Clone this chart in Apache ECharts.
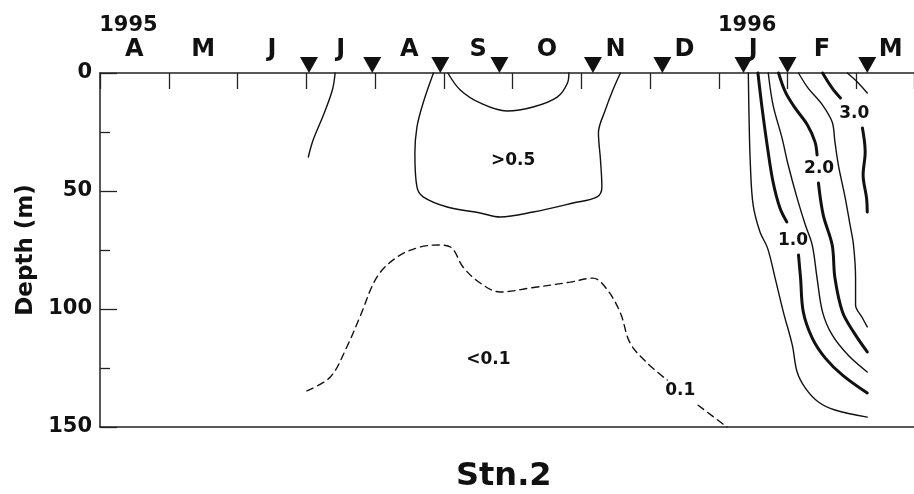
<!DOCTYPE html>
<html>
<head>
<meta charset="utf-8">
<script src="https://cdn.jsdelivr.net/npm/echarts@6.0.0/dist/echarts.min.js"></script>
<style>
  html, body { margin: 0; padding: 0; background: #fff; }
  #chart { width: 914px; height: 494px; }
</style>
</head>
<body>
<div id="chart"></div>
<script>
// Time runs in months since 1 April 1995; depth in metres (0 at the surface).
const months = ['A', 'M', 'J', 'J', 'A', 'S', 'O', 'N', 'D', 'J', 'F', 'M'];
const yearMarks = { 0: '1995', 9: '1996' };
const timeMax = 11.84;

// Sampling dates (triangles along the top)
const sampleDates = [3.04, 3.96, 4.95, 5.81, 7.17, 8.18, 9.36, 10.0, 11.16];

// Solid contour in early July
const julyLine = [[3.42, 0], [3.38, 7.2], [3.25, 17.8], [3.10, 28.4], [3.03, 35.6]];

// 0.5 contour enclosing the late-summer maximum
const outerHalf = [
  [4.85, 0], [4.70, 12.7], [4.61, 22.9], [4.58, 33.9], [4.61, 48.3], [4.70, 52.5],
  [5.05, 56.8], [5.53, 59.3], [5.82, 61.0], [6.30, 58.9], [6.88, 55.1], [7.23, 52.5],
  [7.30, 48.3], [7.28, 36.9], [7.25, 25.4], [7.35, 15.7], [7.46, 7.2], [7.57, 0]
];
// Near-surface bowl inside it
const innerBowl = [
  [5.06, 0], [5.24, 7.2], [5.53, 12.7], [5.92, 16.1], [6.30, 14.4], [6.65, 10.2], [6.80, 4.2], [6.82, 0]
];

// Dashed 0.1 contour (broken where it is labelled)
const tenthA = [
  [3.01, 134.7], [3.35, 128.8], [3.59, 116.1], [3.78, 103.4], [4.03, 86.4], [4.32, 78.0],
  [4.66, 73.7], [4.95, 72.9], [5.12, 74.2], [5.28, 82.2], [5.53, 89.0], [5.82, 92.8],
  [6.26, 91.1], [6.84, 88.6], [7.17, 86.9], [7.38, 91.9], [7.57, 101.7], [7.71, 114.4],
  [7.96, 122.9], [8.25, 130.1]
];
const tenthB = [[8.70, 140.8], [9.12, 150]];

// Winter contours, thin and thick (labelled ones are split around their label)
const winterThinA = [
  [9.43, 0], [9.44, 17.8], [9.46, 39.0], [9.50, 55.9], [9.60, 67.4], [9.71, 74.2],
  [9.82, 86.9], [9.94, 101.3], [10.07, 115.3], [10.14, 126.7], [10.26, 133.5],
  [10.45, 139.4], [10.69, 142.8], [11.16, 145.8]
];
const oneUpper = [[9.57, 0], [9.63, 14.8], [9.71, 31.8], [9.79, 46.2], [9.89, 57.2], [9.99, 63.1]];
const oneLower = [
  [10.16, 77.1], [10.19, 86.9], [10.23, 101.3], [10.36, 112.3], [10.55, 120.8], [10.80, 128.0], [11.16, 135.6]
];
const winterThinC = [
  [9.72, 0], [9.79, 13.6], [9.92, 27.5], [10.01, 39.0], [10.14, 53.0], [10.26, 64.4],
  [10.36, 72.9], [10.43, 86.9], [10.51, 101.3], [10.65, 111.0], [10.88, 119.5], [11.16, 126.7]
];
const twoUpper = [[9.87, 0], [9.97, 8.1], [10.11, 14.8], [10.29, 22.0], [10.40, 29.2], [10.43, 34.7]];
const twoLower = [
  [10.45, 46.6], [10.52, 60.2], [10.65, 72.9], [10.69, 86.9], [10.80, 101.3], [10.96, 109.7], [11.16, 118.2]
];
const winterThinE = [
  [10.16, 0], [10.30, 6.4], [10.51, 13.6], [10.65, 20.8], [10.69, 29.2], [10.74, 39.0],
  [10.84, 53.0], [10.91, 64.4], [10.96, 72.9], [10.99, 86.9], [10.99, 98.3], [11.09, 103.8], [11.16, 107.6]
];
const threeUpper = [[10.51, 0], [10.65, 6.4], [10.77, 10.6]];
const threeLower = [[11.09, 23.3], [11.13, 33.5], [11.10, 43.2], [11.15, 53.0], [11.16, 58.9]];
const winterThinG = [[10.87, 0], [11.03, 4.2], [11.16, 8.5]];

// Contour labels: text, time, depth
const contourLabels = [
  ['>0.5', 6.01, 36.9],
  ['<0.1', 5.65, 121.6],
  ['0.1', 8.44, 134.7],
  ['1.0', 10.08, 70.8],
  ['2.0', 10.46, 40.3],
  ['3.0', 10.97, 17.4]
];

const FONT = 'DejaVu Sans';
const INK = '#111';

function contour(data, width, dashed) {
  return {
    type: 'line',
    xAxisIndex: 0,
    yAxisIndex: 0,
    data: data,
    symbol: 'none',
    smooth: 0.35,
    clip: false,
    silent: true,
    lineStyle: { color: INK, width: width, type: dashed ? [7, 5] : 'solid', cap: 'round', opacity: 1 },
    z: 3
  };
}

const thin = 1.4, thick = 3;

const chart = echarts.init(document.getElementById('chart'), null, { renderer: 'canvas' });
chart.setOption({
  backgroundColor: '#fff',
  animation: false,
  title: {
    text: 'Stn.2',
    left: 451,
    top: 456,
    textStyle: { fontFamily: FONT, fontWeight: 'bold', fontSize: 32, color: INK }
  },
  grid: { left: 100, right: 0, top: 73, bottom: 67, containLabel: false, outerBoundsMode: 'none' },
  xAxis: [
    {
      // month boundaries along the surface line
      type: 'value', position: 'top', min: 0, max: timeMax, interval: 1,
      axisLine: { show: true, lineStyle: { color: '#222', width: 1.5 } },
      axisTick: { show: true, inside: true, length: 16, lineStyle: { color: '#222', width: 1.3 } },
      axisLabel: { show: false },
      splitLine: { show: false }
    },
    {
      // month initials centred between boundaries (half-month units)
      type: 'value', position: 'top', min: 0, max: timeMax * 2, interval: 1,
      axisLine: { show: false }, axisTick: { show: false }, splitLine: { show: false },
      axisLabel: {
        show: true, margin: 10, showMinLabel: true, showMaxLabel: false,
        formatter: function (v) {
          if (v % 2 !== 1) return '';
          const i = (v - 1) / 2;
          if (months[i] === undefined) return '';
          return yearMarks[i] ? '{y|' + yearMarks[i] + '}\n{m|' + months[i] + '}' : '{m|' + months[i] + '}';
        },
        rich: {
          y: { fontFamily: FONT, fontWeight: 'bold', fontSize: 21, lineHeight: 22, color: INK, padding: [0, 12, 0, 0] },
          m: { fontFamily: FONT, fontWeight: 'bold', fontSize: 24, lineHeight: 26, color: INK }
        }
      }
    },
    {
      // bottom frame line
      type: 'value', position: 'bottom', min: 0, max: timeMax,
      axisLine: { show: true, lineStyle: { color: '#222', width: 1.5 } },
      axisTick: { show: false }, axisLabel: { show: false }, splitLine: { show: false }
    }
  ],
  yAxis: {
    type: 'value', inverse: true, min: 0, max: 150, interval: 50,
    name: 'Depth (m)', nameLocation: 'middle', nameGap: 58, nameRotate: 90,
    nameTextStyle: { fontFamily: FONT, fontWeight: 'bold', fontSize: 23, color: INK },
    axisLine: { show: true, lineStyle: { color: '#222', width: 1.5 } },
    axisTick: { show: true, inside: true, length: 17, lineStyle: { color: '#222', width: 1.3 } },
    minorTick: { show: true, splitNumber: 2, length: 10, lineStyle: { color: '#222', width: 1.3 } },
    axisLabel: { margin: 8, fontFamily: FONT, fontWeight: 'bold', fontSize: 21, color: INK },
    splitLine: { show: false }
  },
  series: [
    contour(julyLine, thin),
    contour(outerHalf, thin),
    contour(innerBowl, thin),
    contour(tenthA, thin, true),
    contour(tenthB, thin, true),
    contour(winterThinA, thin),
    contour(oneUpper, thick),
    contour(oneLower, thick),
    contour(winterThinC, thin),
    contour(twoUpper, thick),
    contour(twoLower, thick),
    contour(winterThinE, thin),
    contour(threeUpper, thick),
    contour(threeLower, thick),
    contour(winterThinG, thin),
    {
      type: 'scatter', xAxisIndex: 0, yAxisIndex: 0, silent: true, clip: false,
      data: sampleDates.map(function (t) { return [t, 0]; }),
      symbol: 'triangle', symbolRotate: 180, symbolSize: [18, 16], symbolOffset: [0, -8],
      itemStyle: { color: INK, opacity: 1 }, z: 5
    },
    {
      type: 'scatter', xAxisIndex: 0, yAxisIndex: 0, silent: true, clip: false,
      data: contourLabels.map(function (c) { return { name: c[0], value: [c[1], c[2]] }; }),
      symbolSize: 0,
      itemStyle: { opacity: 1 },
      label: {
        show: true, position: 'inside', formatter: '{b}', opacity: 1,
        fontFamily: FONT, fontWeight: 'bold', fontSize: 17, color: INK
      },
      z: 6
    }
  ]
});
</script>
</body>
</html>
